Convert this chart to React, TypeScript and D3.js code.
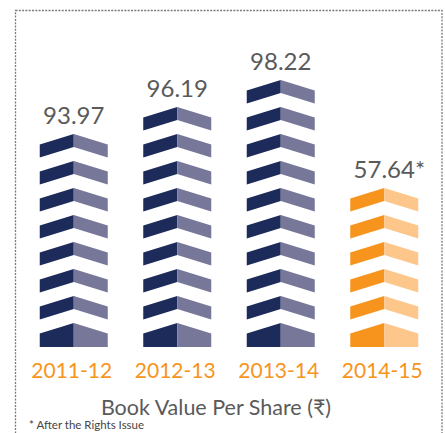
import React, { useEffect, useRef } from 'react';
import * as d3 from 'd3';

// data
const years = ['2011-12', '2012-13', '2013-14', '2014-15'];
const bookValues = [93.97, 96.19, 98.22, 57.64];
const valueSuffix = ['', '', '', '*'];
// number of stacked blocks drawn in each column (base block included)
const blockCounts = [8, 9, 10, 6];
const highlight = [false, false, false, true];

const W = 445;
const H = 433;
const FONT = "Lato, 'Noto Sans', 'DejaVu Sans', sans-serif";

const App = () => {
  const svgRef = useRef<SVGSVGElement>(null);

  useEffect(() => {
    const svg = d3.select(svgRef.current);
    svg.selectAll('*').remove();

    // dotted frame
    svg
      .append('rect')
      .attr('x', 15.5)
      .attr('y', 10.5)
      .attr('width', 426.5)
      .attr('height', 440)
      .attr('fill', 'none')
      .attr('stroke', '#7a7a7a')
      .attr('stroke-width', 1.3)
      .attr('stroke-dasharray', '2,1.3');

    const x = d3.scaleBand().domain(years).range([22, 436]).paddingInner(0.343).paddingOuter(0.1715);
    // y of the peak of block i (i = 0 is the base block)
    const y = d3.scaleLinear().domain([0, 1]).range([323, 296]);
    const baseBottom = 347;
    const rise = 10.5;
    const thick = 13;

    const colors = {
      normal: ['#1c2b5a', '#77779a'],
      hi: ['#f7941d', '#fdc68a'],
    };

    years.forEach((yr, k) => {
      const x0 = x(yr)!;
      const bw = x.bandwidth();
      const xc = x0 + bw / 2;
      const x1 = x0 + bw;
      const [dark, light] = highlight[k] ? colors.hi : colors.normal;
      const g = svg.append('g');

      d3.range(blockCounts[k]).forEach((i) => {
        const t = y(i);
        let leftPts: [number, number][];
        let rightPts: [number, number][];
        if (i === 0) {
          leftPts = [[x0, t + rise], [xc, t], [xc, baseBottom], [x0, baseBottom]];
          rightPts = [[xc, t], [x1, t + rise], [x1, baseBottom], [xc, baseBottom]];
        } else {
          leftPts = [[x0, t + rise], [xc, t], [xc, t + thick], [x0, t + rise + thick]];
          rightPts = [[xc, t], [x1, t + rise], [x1, t + rise + thick], [xc, t + thick]];
        }
        const line = d3.line();
        g.append('path').attr('d', line(leftPts)! + 'Z').attr('fill', dark);
        g.append('path').attr('d', line(rightPts)! + 'Z').attr('fill', light);
      });

      const topY = y(blockCounts[k] - 1);
      const label = svg
        .append('text')
        .attr('x', xc)
        .attr('y', topY - 10)
        .attr('font-family', FONT)
        .attr('font-size', 24)
        .attr('fill', '#5a5a5a')
        .text(bookValues[k].toFixed(2));
      const lw = (label.node() as SVGTextElement).getComputedTextLength();
      label.attr('x', xc - lw / 2);
      if (valueSuffix[k]) {
        label.append('tspan').text(valueSuffix[k]);
      }

      svg
        .append('text')
        .attr('x', xc - 2)
        .attr('y', 378)
        .attr('text-anchor', 'middle')
        .attr('font-family', FONT)
        .attr('font-size', 21)
        .attr('fill', '#f7941d')
        .text(yr);
    });

    svg
      .append('text')
      .attr('x', 216)
      .attr('y', 415)
      .attr('text-anchor', 'middle')
      .attr('font-family', FONT)
      .attr('font-size', 21.5)
      .attr('fill', '#5a5a5a')
      .text('Book Value Per Share (₹)');

    svg
      .append('text')
      .attr('x', 29)
      .attr('y', 429)
      .attr('font-family', FONT)
      .attr('font-size', 11.5)
      .attr('fill', '#444444')
      .text('* After the Rights Issue');
  }, []);

  return (
    <svg
      ref={svgRef}
      width={W}
      height={H}
      style={{ position: 'absolute', left: 0, top: 0, background: '#fff' }}
    />
  );
};

export default App;
